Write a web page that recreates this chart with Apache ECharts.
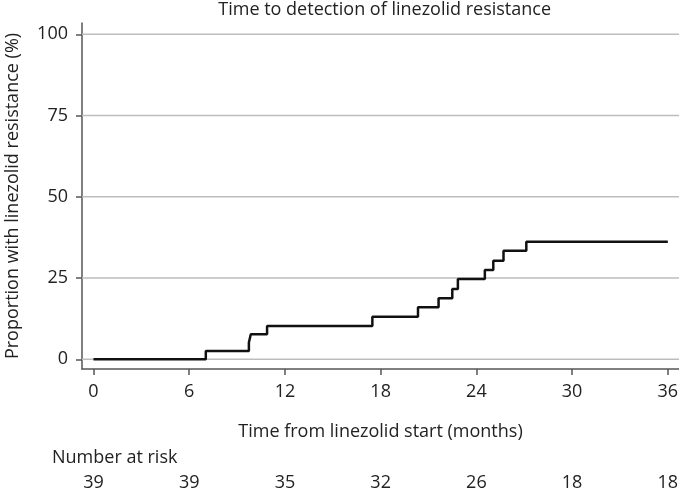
<!DOCTYPE html>
<html>
<head>
<meta charset="utf-8">
<script src="https://cdn.jsdelivr.net/npm/echarts@6/dist/echarts.min.js"></script>
<style>html,body{margin:0;padding:0;background:#fff}#c{width:679px;height:491px}</style>
</head>
<body>
<div id="c"></div>
<script>
// Kaplan–Meier step curve (cumulative proportion with resistance, %)
var stepTimes = [0, 7.04, 9.74, 9.86, 10.88, 17.48, 20.34, 21.63, 22.49, 22.84, 24.53, 25.06, 25.70, 27.13, 36];
var stepValues = [0, 2.56, 5.13, 7.69, 10.26, 13.07, 16.0, 18.8, 21.6, 24.7, 27.5, 30.3, 33.4, 36.2, 36.2];
var xTicks = [0, 6, 12, 18, 24, 30, 36];
var yTicks = [0, 25, 50, 75, 100];
var riskTimes = [0, 6, 12, 18, 24, 30, 36];
var riskCounts = [39, 39, 35, 32, 26, 18, 18];

var FONT = '"Open Sans", "Noto Sans", sans-serif';
var FS = 18;
var TXT = '#222';
var XMIN = -0.72, XMAX = 36.7;
var chart = echarts.init(document.getElementById('c'), null, {renderer: 'canvas'});
var lineData = stepTimes.map(function (t, i) { return [t, stepValues[i]]; });

var gridSeries = yTicks.map(function (v) {
  return {
    type: 'line', xAxisIndex: 0, yAxisIndex: 0, silent: true, showSymbol: false, z: 1,
    data: [[XMIN, v], [XMAX, v]],
    lineStyle: {color: '#bdbdbd', width: 1.5}
  };
});

chart.setOption({
  animation: false,
  backgroundColor: '#fff',
  grid: [
    {left: 82, right: 0, top: 23, bottom: 122, containLabel: false, outerBoundsMode: 'none'},
    {left: 82, right: 0, top: 473, bottom: 17, containLabel: false, outerBoundsMode: 'none'}
  ],
  xAxis: [{
    type: 'value', gridIndex: 0, min: XMIN, max: XMAX,
    name: 'Time from linezolid start (months)', nameLocation: 'middle', nameGap: 54,
    nameTextStyle: {fontFamily: FONT, fontSize: FS, color: TXT},
    axisLine: {onZero: false, lineStyle: {color: '#555', width: 1.5}},
    axisTick: {show: true, customValues: xTicks, length: 6, lineStyle: {color: '#555', width: 1.5}},
    axisLabel: {customValues: xTicks, margin: 14, fontFamily: FONT, fontSize: FS, color: TXT},
    splitLine: {show: false}
  }, {
    type: 'value', gridIndex: 1, min: XMIN, max: XMAX, position: 'bottom',
    axisLine: {show: false}, axisTick: {show: false}, splitLine: {show: false},
    axisLabel: {customValues: riskTimes, margin: 0, fontFamily: FONT, fontSize: FS, color: TXT,
      formatter: function (v) { var i = riskTimes.indexOf(v); return i >= 0 ? String(riskCounts[i]) : ''; }}
  }],
  yAxis: [{
    type: 'value', gridIndex: 0, min: -3.0, max: 103.5,
    name: 'Proportion with linezolid resistance (%)', nameLocation: 'middle', nameGap: 60,
    nameTextStyle: {fontFamily: FONT, fontSize: FS, color: TXT},
    axisLine: {show: true, onZero: false, lineStyle: {color: '#555', width: 1.5}},
    axisTick: {show: true, customValues: yTicks, length: 6, lineStyle: {color: '#555', width: 1.5}},
    axisLabel: {customValues: yTicks, margin: 14, fontFamily: FONT, fontSize: FS, color: TXT},
    splitLine: {show: false}
  }, {
    type: 'value', gridIndex: 1, min: 0, max: 1, show: false
  }],
  series: gridSeries.concat([{
    type: 'line', step: 'end', xAxisIndex: 0, yAxisIndex: 0,
    data: lineData, showSymbol: false, z: 5,
    lineStyle: {color: '#111', width: 2.5}
  }])
});

var midX = (chart.convertToPixel({xAxisIndex: 0}, 0) + chart.convertToPixel({xAxisIndex: 0}, 36)) / 2 + 4;
chart.setOption({
  graphic: [{
    type: 'text', x: midX, y: 1,
    style: {text: 'Time to detection of linezolid resistance', font: FS + 'px ' + FONT, fill: TXT, textAlign: 'center', textVerticalAlign: 'top'}
  }, {
    type: 'text', x: 52, y: 449,
    style: {text: 'Number at risk', font: FS + 'px ' + FONT, fill: TXT, textAlign: 'left', textVerticalAlign: 'top'}
  }]
});
</script>
</body>
</html>
